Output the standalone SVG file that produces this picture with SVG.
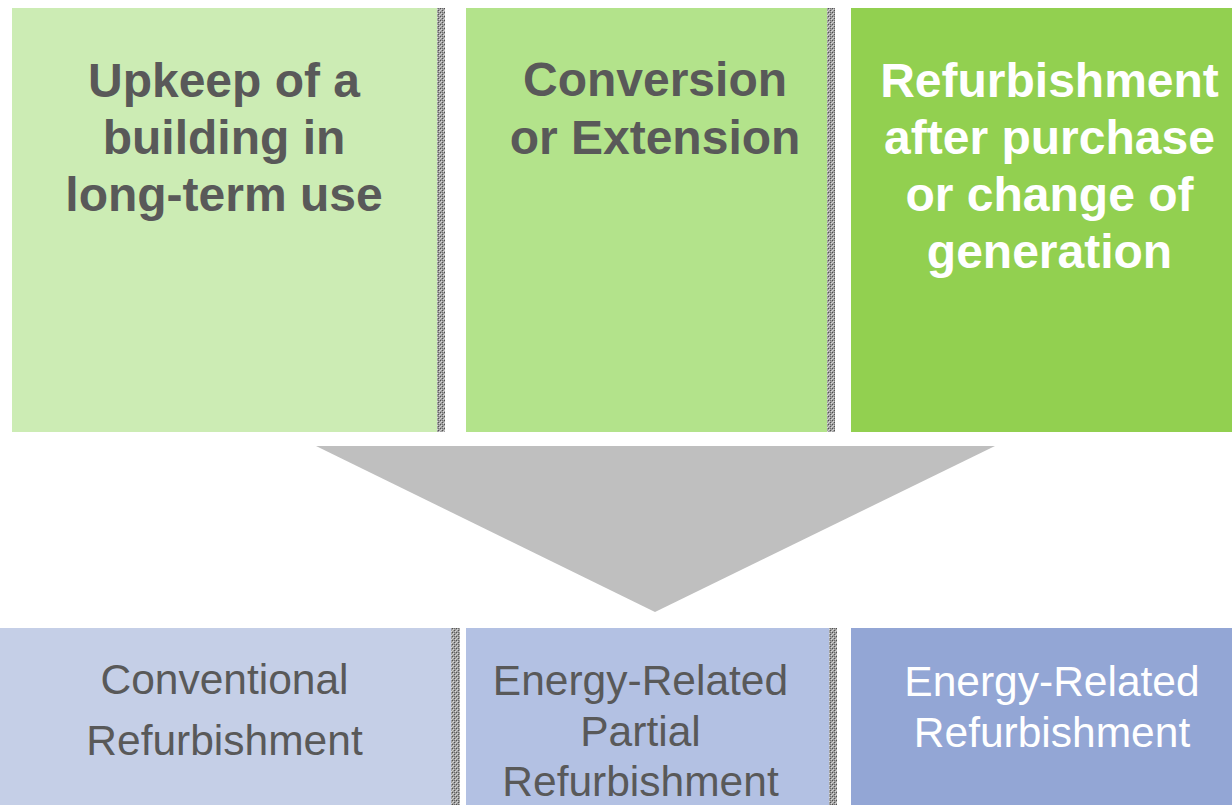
<svg xmlns="http://www.w3.org/2000/svg" width="1232" height="805" viewBox="0 0 1232 805">
<defs>
<pattern id="dots" width="4" height="4" patternUnits="userSpaceOnUse">
<rect width="4" height="4" fill="#a0a0a0"/>
<rect x="0" y="0" width="1" height="1" fill="#505050"/>
<rect x="2" y="2" width="1" height="1" fill="#505050"/>
<rect x="1" y="1" width="1" height="1" fill="#d8d8d8"/>
<rect x="3" y="3" width="1" height="1" fill="#d8d8d8"/>
<rect x="2" y="0" width="1" height="1" fill="#707070"/>
<rect x="0" y="2" width="1" height="1" fill="#c8c8c8"/>
</pattern>
</defs>
<style>
.top{font-family:"Liberation Sans",Arial,sans-serif;font-weight:bold;font-size:48px;text-anchor:middle;fill:#595959}
.bot{font-family:"Liberation Sans",Arial,sans-serif;font-size:42.5px;text-anchor:middle;fill:#595959}
.w{fill:#ffffff}
.sep{fill:url(#dots)}
</style>
<rect width="1232" height="805" fill="#ffffff"/>
<g id="top1">
<rect x="12" y="8" width="425" height="424" fill="#CCECB4"/>
<rect class="sep" x="437" y="8" width="8" height="424"/>
<text class="top" x="224" y="97">Upkeep of a</text>
<text class="top" x="224" y="154">building in</text>
<text class="top" x="224" y="211">long-term use</text>
</g>
<g id="top2">
<rect x="466" y="8" width="361" height="424" fill="#B3E38B"/>
<rect class="sep" x="827" y="8" width="8" height="424"/>
<text class="top" x="655" y="96">Conversion</text>
<text class="top" x="655" y="154">or Extension</text>
</g>
<g id="top3">
<rect x="851" y="8" width="381" height="424" fill="#92D050"/>
<text class="top w" x="1049.5" y="97">Refurbishment</text>
<text class="top w" x="1049.5" y="154">after purchase</text>
<text class="top w" x="1049.5" y="211">or change of</text>
<text class="top w" x="1049.5" y="268">generation</text>
</g>
<g id="connectors">
<polygon points="316,446 995,446 655,612" fill="#BFBFBF"/>
</g>
<g id="bot1">
<rect x="0" y="628" width="451" height="177" fill="#C5CFE7"/>
<rect class="sep" x="451" y="628" width="9" height="177"/>
<text class="bot" x="224.5" y="694">Conventional</text>
<text class="bot" x="224.5" y="755">Refurbishment</text>
</g>
<g id="bot2">
<rect x="466" y="628" width="363" height="177" fill="#B3C1E3"/>
<rect class="sep" x="829" y="628" width="8" height="177"/>
<text class="bot" x="640.5" y="695">Energy-Related</text>
<text class="bot" x="640.5" y="746">Partial</text>
<text class="bot" x="640.5" y="796">Refurbishment</text>
</g>
<g id="bot3">
<rect x="851" y="628" width="381" height="177" fill="#93A6D5"/>
<text class="bot w" x="1052" y="696">Energy-Related</text>
<text class="bot w" x="1052" y="747">Refurbishment</text>
</g>
</svg>
